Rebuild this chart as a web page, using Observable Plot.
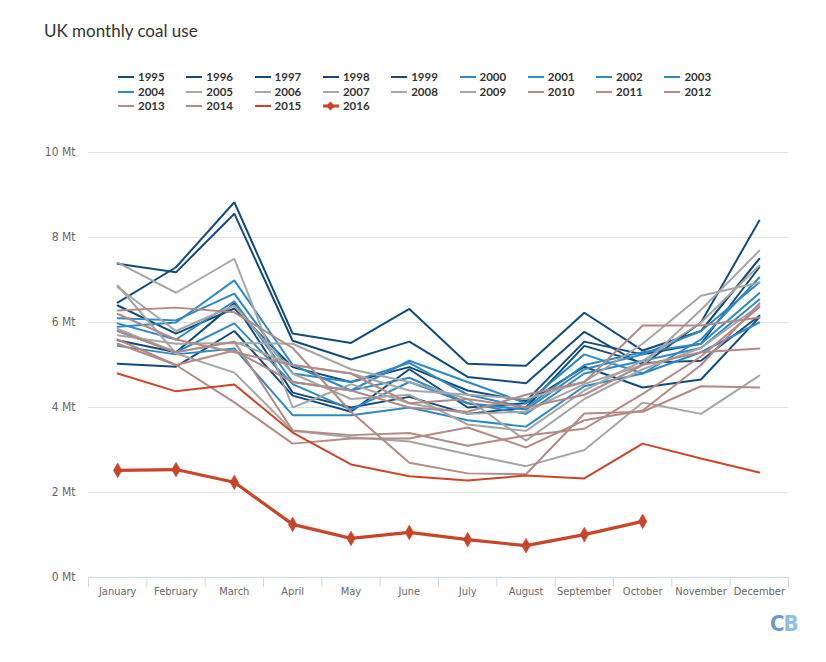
<!DOCTYPE html>
<html>
<head>
<meta charset="utf-8">
<script src="https://cdn.jsdelivr.net/npm/d3@7"></script>
<script src="https://cdn.jsdelivr.net/npm/@observablehq/plot@0.6"></script>
<style>
  body { margin: 0; background: #fff; }
  #wrap { position: relative; width: 826px; height: 662px; overflow: hidden; font-family: Lato, "Open Sans", sans-serif; }
  #title { position: absolute; left: 44px; top: 20px; font-size: 17px; color: #333; }
  #legend { position: absolute; left: 0; top: 70px; width: 826px; height: 50px; }
  .item { position: absolute; font-size: 11.5px; font-weight: bold; color: #333; line-height: 14px; white-space: nowrap; }
  .item svg { vertical-align: middle; margin-right: 4px; position: relative; top: -1px; }
  #chart { position: absolute; left: 0; top: 130px; }
  #logo { position: absolute; left: 770px; top: 611px; font-family: "Liberation Sans Narrow", "DejaVu Sans Condensed", sans-serif; font-weight: bold; font-size: 22px; letter-spacing: -1px; }
</style>
</head>
<body>
<div id="wrap">
  <div id="title">UK monthly coal use</div>
  <div id="legend"></div>
  <div id="chart"></div>
  <div id="logo"><span style="color:#6b98c4">C</span><span style="color:#8cbde6">B</span></div>
</div>
<script>
const months = ["January","February","March","April","May","June","July","August","September","October","November","December"];
const years = [1995,1996,1997,1998,1999,2000,2001,2002,2003,2004,2005,2006,2007,2008,2009,2010,2011,2012,2013,2014,2015,2016];
const yTicks = [0,2,4,6,8,10];

// Monthly coal use, Mt
const y1995 = [6.47, 7.30, 8.83, 5.74, 5.52, 6.32, 5.03, 4.98, 6.23, 5.34, 5.80, 7.50];
const y1996 = [7.38, 7.18, 8.56, 5.57, 5.13, 5.55, 4.72, 4.57, 5.78, 5.00, 6.00, 8.40];
const y1997 = [6.40, 5.74, 6.33, 4.95, 4.60, 4.95, 4.40, 4.15, 5.55, 5.25, 5.50, 7.30];
const y1998 = [5.58, 5.30, 6.45, 4.35, 4.00, 4.25, 3.85, 4.00, 5.45, 5.05, 5.10, 6.16];
const y1999 = [5.03, 4.96, 5.80, 4.28, 3.90, 4.90, 4.00, 4.10, 4.96, 4.47, 4.66, 6.12];
const y2000 = [5.90, 6.00, 6.99, 5.00, 4.40, 5.10, 4.60, 4.10, 5.25, 4.80, 5.60, 7.06];
const y2001 = [6.10, 6.05, 6.68, 4.80, 4.60, 5.05, 4.30, 4.00, 5.00, 5.30, 5.50, 6.69];
const y2002 = [5.98, 5.60, 6.50, 4.60, 4.40, 4.70, 4.10, 3.85, 4.80, 5.10, 5.40, 6.54];
const y2003 = [5.80, 5.30, 5.98, 4.55, 3.95, 4.60, 4.10, 3.95, 4.90, 5.25, 5.80, 6.94];
const y2004 = [5.45, 5.25, 5.39, 3.82, 3.82, 4.00, 3.70, 3.55, 4.50, 4.80, 5.30, 6.00];
const y2005 = [5.85, 5.30, 5.55, 5.00, 4.80, 4.40, 4.30, 4.20, 4.60, 5.50, 6.63, 6.94];
const y2006 = [7.41, 6.70, 7.50, 4.00, 4.55, 4.10, 3.85, 3.90, 4.55, 5.00, 6.30, 7.69];
const y2007 = [6.83, 5.80, 6.40, 4.80, 4.20, 4.30, 3.60, 3.45, 4.40, 5.10, 6.00, 7.34];
const y2008 = [5.70, 5.50, 5.52, 5.50, 4.90, 4.60, 4.20, 3.22, 4.20, 4.90, 5.40, 6.40];
const y2009 = [6.87, 5.27, 4.82, 3.45, 3.30, 3.20, 2.90, 2.62, 3.00, 4.12, 3.85, 4.75];
const y2010 = [5.50, 5.00, 5.34, 4.60, 4.40, 4.00, 3.90, 4.30, 4.60, 5.93, 5.93, 6.12];
const y2011 = [6.20, 5.60, 5.30, 5.00, 4.80, 4.10, 4.20, 4.00, 4.30, 5.00, 5.30, 5.39];
const y2012 = [6.28, 6.35, 6.24, 5.40, 3.90, 2.70, 2.45, 2.43, 3.86, 3.90, 4.50, 4.47];
const y2013 = [5.80, 5.30, 5.55, 3.46, 3.35, 3.40, 3.10, 3.34, 3.50, 4.32, 5.20, 6.36];
const y2014 = [5.60, 5.00, 4.12, 3.15, 3.27, 3.27, 3.53, 3.06, 3.70, 3.93, 5.00, 6.45];
const y2015 = [4.80, 4.38, 4.54, 3.41, 2.66, 2.38, 2.28, 2.40, 2.33, 3.15, 2.80, 2.47];
const y2016 = [2.52, 2.54, 2.24, 1.25, 0.92, 1.06, 0.89, 0.75, 1.01, 1.32];

const seriesValues = [y1995,y1996,y1997,y1998,y1999,y2000,y2001,y2002,y2003,y2004,y2005,y2006,y2007,y2008,y2009,y2010,y2011,y2012,y2013,y2014,y2015,y2016];

const groupColor = y => y <= 1999 ? "#124b7b" : y <= 2004 ? "#2f89c5" : y <= 2009 ? "#a6a6a6" : y <= 2014 ? "#b38a84" : "#cc4528";

const rows = [];
years.forEach((yr, i) => {
  seriesValues[i].forEach((v, m) => rows.push({year: yr, m: m + 0.5, month: months[m], value: v}));
});
const main = rows.filter(d => d.year < 2016);
const last = rows.filter(d => d.year === 2016);

const chart = Plot.plot({
  width: 826,
  height: 490,
  marginLeft: 88,
  marginRight: 38,
  marginTop: 22,
  marginBottom: 43,
  style: {fontFamily: '"Liberation Sans Narrow", "DejaVu Sans Condensed", sans-serif', fontSize: "11px", color: "#666"},
  x: {type: "linear", domain: [0, 12]},
  y: {domain: [0, 10]},
  marks: [
    Plot.gridY(yTicks.filter(t => t > 0), {stroke: "#e3e3e3", strokeOpacity: 1}),
    Plot.axisY(yTicks, {tickSize: 0, tickPadding: 13, tickFormat: d => d + " Mt", label: null, fill: "#666", fontSize: 12}),
    Plot.axisX(d3.range(13), {tickSize: 10, tickFormat: () => "", stroke: "#ccd6eb", label: null}),
    Plot.axisX(d3.range(12).map(i => i + 0.5), {tickSize: 0, tickPadding: 10, tickFormat: d => months[Math.floor(d)], label: null, fill: "#666"}),
    Plot.ruleY([0], {stroke: "#ccd6eb", strokeWidth: 1}),
    Plot.line(main, {x: "m", y: "value", z: "year", stroke: d => groupColor(d.year), strokeWidth: 2, strokeLinejoin: "miter"}),
    Plot.line(last, {x: "m", y: "value", stroke: "#c9452a", strokeWidth: 3.2}),
    Plot.dot(last, {x: "m", y: "value", symbol: "diamond", r: 4.5, fill: "#c9452a", stroke: "#c9452a", strokeWidth: 0.5})
  ]
});
document.getElementById("chart").appendChild(chart);

// Legend
const legend = document.getElementById("legend");
years.forEach((yr, i) => {
  const col = i % 9, row = Math.floor(i / 9);
  const div = document.createElement("div");
  div.className = "item";
  div.style.left = (118 + col * 68.3) + "px";
  div.style.top = (row * 14.5) + "px";
  const c = yr === 2016 ? "#c9452a" : groupColor(yr);
  const marker = yr === 2016 ? `<path d="M7.5,0.5 L12,5 L7.5,9.5 L3,5 Z" fill="${c}"/>` : "";
  div.innerHTML = `<svg width="16" height="10"><line x1="0" x2="16" y1="5" y2="5" stroke="${c}" stroke-width="${yr === 2016 ? 3 : 2}"/>${marker}</svg>${yr}`;
  legend.appendChild(div);
});
</script>
</body>
</html>
